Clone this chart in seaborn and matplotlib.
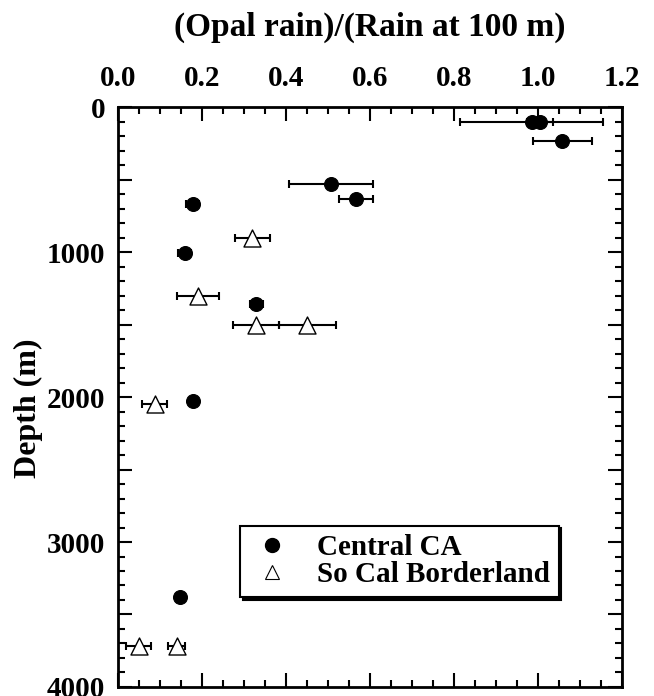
import numpy as np
import pandas as pd
import matplotlib
matplotlib.use("Agg")
import matplotlib.pyplot as plt
import seaborn as sns
from matplotlib.ticker import MultipleLocator, FuncFormatter
from matplotlib.lines import Line2D

# Central CA
cc_ratio = [0.985, 1.005, 1.058, 0.507, 0.567, 0.178, 0.159, 0.330, 0.180, 0.149]
cc_depth = [100, 100, 230, 530, 635, 670, 1005, 1355, 2025, 3380]
cc_err = [0.17, 0.03, 0.07, 0.10, 0.04, 0.015, 0.015, 0.015, 0.0, 0.0]

# So Cal Borderland
sc_ratio = [0.320, 0.190, 0.330, 0.451, 0.088, 0.050, 0.140]
sc_depth = [900, 1300, 1500, 1500, 2050, 3715, 3715]
sc_err = [0.042, 0.05, 0.055, 0.068, 0.03, 0.03, 0.02]

series_names = ["Central CA", "So Cal Borderland"]

df = pd.concat([
    pd.DataFrame({"ratio": cc_ratio, "depth": cc_depth, "err": cc_err, "site": series_names[0]}),
    pd.DataFrame({"ratio": sc_ratio, "depth": sc_depth, "err": sc_err, "site": series_names[1]}),
], ignore_index=True)

sns.set_theme(style="ticks")
plt.rcParams["font.family"] = ["Liberation Serif", "DejaVu Serif"]
plt.rcParams["font.weight"] = "bold"
for k in ["text.color", "axes.labelcolor", "xtick.color", "ytick.color", "axes.edgecolor"]:
    plt.rcParams[k] = "black"

fig = plt.figure(figsize=(6.54, 6.96), dpi=100)
ax = fig.add_axes([0.180, 0.013, 0.771, 0.833])

# error bars first
for _, r in df.iterrows():
    if r["err"] > 0:
        ax.errorbar(r["ratio"], r["depth"], xerr=r["err"], fmt="none",
                    ecolor="black", elinewidth=1.5, capsize=3.2, capthick=1.5, zorder=2)

sns.scatterplot(data=df[df.site == series_names[0]], x="ratio", y="depth",
                marker="o", color="black", edgecolor="black", s=100, linewidth=0.8,
                ax=ax, zorder=3, legend=False)
sns.scatterplot(data=df[df.site == series_names[1]], x="ratio", y="depth",
                marker="^", color="white", edgecolor="black", s=150, linewidth=1.0,
                ax=ax, zorder=3, legend=False)

ax.set_xlim(0, 1.2)
ax.set_ylim(4000, 0)
ax.xaxis.set_major_locator(MultipleLocator(0.2))
ax.xaxis.set_minor_locator(MultipleLocator(0.05))
ax.yaxis.set_major_locator(MultipleLocator(500))
ax.yaxis.set_minor_locator(MultipleLocator(100))
ax.xaxis.set_major_formatter(FuncFormatter(lambda v, p: f"{v:.1f}"))
ax.yaxis.set_major_formatter(FuncFormatter(lambda v, p: f"{int(round(v))}" if round(v) % 1000 == 0 else ""))

ax.xaxis.tick_top()
ax.xaxis.set_label_position("top")
ax.tick_params(axis="both", which="both", direction="in", top=True, bottom=True,
               left=True, right=True, labeltop=True, labelbottom=False,
               labelleft=True, labelright=False, width=1.5, color="black")
ax.tick_params(which="major", length=10, labelsize=21)
ax.tick_params(axis="x", which="major", pad=11)
ax.tick_params(axis="y", which="major", pad=9)
ax.tick_params(which="minor", length=5)
for lab in ax.get_xticklabels() + ax.get_yticklabels():
    lab.set_fontweight("bold")

for s in ax.spines.values():
    s.set_linewidth(2)
    s.set_color("black")

ax.set_xlabel("(Opal rain)/(Rain at 100 m)", fontsize=24, fontweight="bold", labelpad=21)
ax.set_ylabel("Depth (m)", fontsize=23, fontweight="bold")
ax.yaxis.set_label_coords(-0.149, 0.481)

handles = [
    Line2D([], [], marker="o", ls="none", color="black", markersize=10),
    Line2D([], [], marker="^", ls="none", markerfacecolor="white", markeredgecolor="black",
           markeredgewidth=0.8, markersize=10),
]
leg = ax.legend(handles, series_names, loc="lower left", bbox_to_anchor=(0.242, 0.155),
                frameon=True, fancybox=False, shadow={"color": "black", "alpha": 1},
                prop={"family": "Liberation Serif", "weight": "bold", "size": 21},
                handletextpad=0.75, borderpad=0.3, labelspacing=0.0, handlelength=1.6,
                borderaxespad=0)
leg.get_frame().set_edgecolor("black")
leg.get_frame().set_linewidth(1.5)

fig.savefig("out.png", dpi=100)
